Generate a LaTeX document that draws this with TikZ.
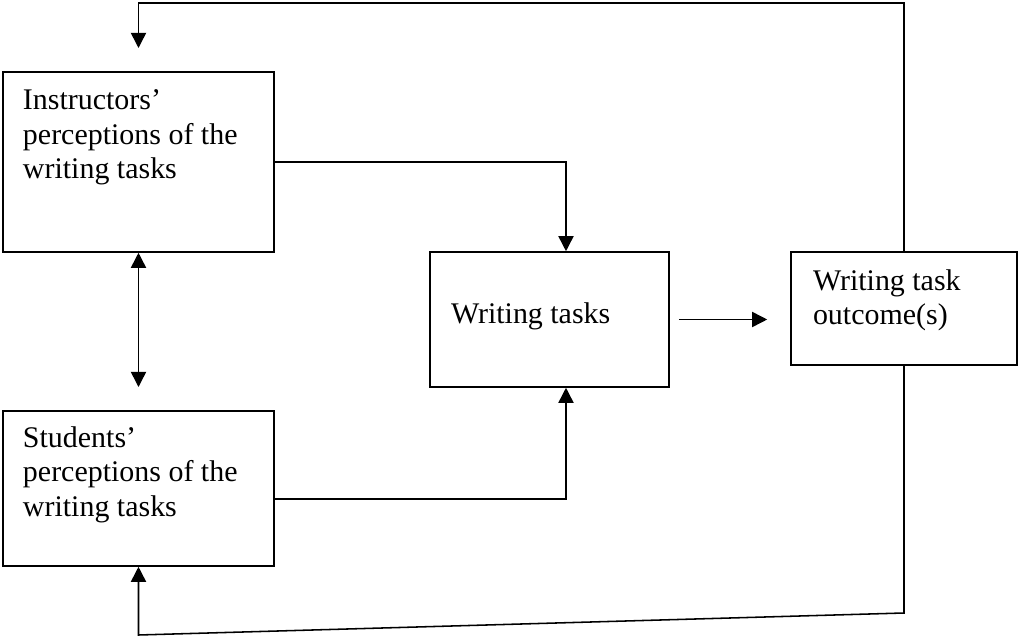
\documentclass[tikz,border=0pt]{standalone}
\usepackage{fontspec}
\setmainfont{Liberation Serif}
\usetikzlibrary{positioning,calc,arrows.meta}

\begin{document}
\begin{tikzpicture}[->,>={Triangle[length=3.8mm,width=3.8mm]},
                    line width=1.1pt,
                    main box/.style={rectangle,draw,inner sep=0pt},
                    box text/.style={inner sep=0pt,align=left,
                      font=\fontsize{21.3}{24.6}\selectfont}
                   ]
  \useasboundingbox (0,0) rectangle (25.475,15.925);

  % boxes
  \node[main box,minimum width=6.775cm,minimum height=4.5cm] (I) at (3.4625,11.875) {};
  \node[main box,minimum width=6.775cm,minimum height=3.875cm] (S) at (3.4625,3.7125) {};
  \node[main box,minimum width=5.975cm,minimum height=3.375cm] (W) at (13.7375,7.9375) {};
  \node[main box,minimum width=5.65cm,minimum height=2.825cm] (O) at (22.6,8.2125) {};

  % texts
  \node[box text,anchor=north west] (Itext) at ([shift={(0.5,-0.44)}]I.north west)
    {Instructors’\\perceptions of the\\writing tasks};
  \node[box text,anchor=north west] (Stext) at ([shift={(0.5,-0.39)}]S.north west)
    {Students’\\perceptions of the\\writing tasks};
  \node[box text,anchor=base west] (Wtext) at ([shift={(0.525,-0.09)}]W.west)
    {Writing tasks};
  \node[box text,anchor=north west] (Otext) at ([shift={(0.55,-0.44)}]O.north west)
    {Writing task\\outcome(s)};

  % free ends
  \coordinate (topin) at (3.4625,14.725);
  \coordinate (midS) at (3.4625,6.25);
  \coordinate (wout) at ([xshift=0.225cm]W.east);
  \coordinate (oin) at ([xshift=-0.575cm]O.west |- W.east);
  \coordinate (fb) at (3.4625,0.05);

  \draw (I.east) -| ([xshift=0.4125cm]W.north);
  \draw ([yshift=-0.2625cm]S.east) -| ([xshift=0.4125cm]W.south);
  \path (wout) edge (oin);
  \draw[<->] (I.south) -- (midS);

  % feedback loop
  \draw (O.north) |- (topin |- 0,15.85) -- (topin);
  \draw (O.south) -- (O.south |- 0,0.6) -- (fb) -- (S.south);
\end{tikzpicture}
\end{document}
